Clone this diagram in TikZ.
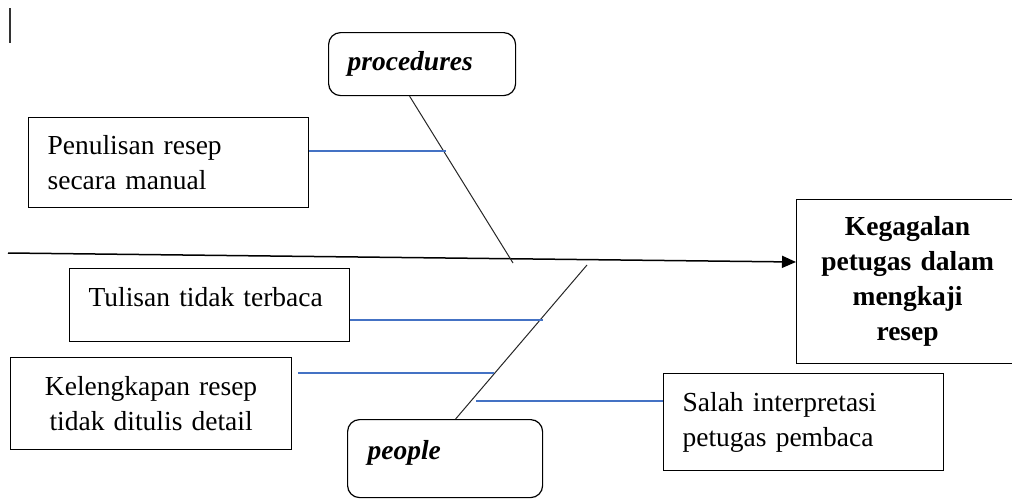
\documentclass[tikz,border=0pt]{standalone}
\usepackage{fontspec}
\setmainfont{Liberation Serif}
\usetikzlibrary{arrows.meta, calc}

\definecolor{twigblue}{RGB}{68,114,196}

\begin{document}
\begin{tikzpicture}[x=1pt, y=-1pt, font=\fontsize{27.5}{35}\selectfont]

  \tikzset{causebox/.style={draw, line width=1.2pt, inner xsep=19pt, align=left, anchor=north west}}
  \tikzset{headbox/.style={causebox, rounded corners=12pt, inner ysep=0pt,
      font=\fontsize{27.5}{35}\selectfont\bfseries\itshape}}
  \tikzset{bone/.style={line width=1pt, black!85}}
  \tikzset{twig/.style={line width=1.2pt, twigblue}}

  \useasboundingbox (0,0) rectangle (1012,498);
  \clip (0,0) rectangle (1012,498);

  % cursor mark
  \draw[line width=2pt, black!80] (9.5,8) -- (9.5,43);

  % heads
  \node[headbox, text width=149pt, text height=38pt, text depth=25pt] (proc) at (328,32) {procedures};
  \node[headbox, inner xsep=20pt, text width=155pt, text height=40pt, text depth=38pt] (ppl) at (347,419) {people};

  % effect
  \node[causebox, inner xsep=0pt, align=center, text width=200pt, minimum width=222, minimum height=164,
      font=\fontsize{27.5}{35}\selectfont\bfseries] (keg) at (796,199)
      {Kegagalan\\petugas dalam\\mengkaji\\resep};

  % causes
  \node[causebox, text width=242pt, minimum width=280, minimum height=90] (pen) at (28,117)
      {Penulisan resep\\secara manual};
  \node[causebox, text width=242pt, inner ysep=0pt, text height=38pt, text depth=35pt] (tul) at (69,268)
      {Tulisan tidak terbaca};
  \node[causebox, text width=243pt, align=center, minimum width=281, minimum height=92] (kel) at (10,357)
      {Kelengkapan resep\\tidak ditulis detail};
  \node[causebox, text width=242pt, minimum width=280, minimum height=97] (sal) at (663,373)
      {Salah interpretasi\\petugas pembaca};

  % spine
  \coordinate (tail) at (8,253);
  \coordinate (tip) at (796,262);
  \draw[line width=1.5pt, -{Triangle[length=14pt, width=12pt]}] (tail) -- (tip);

  % bones
  \coordinate (pfoot) at (513,263);
  \coordinate (qfoot) at (587,265);
  \draw[bone] ($(proc.south)+(-12.5,0)$) -- (pfoot);
  \draw[bone] ($(ppl.north)+(10.5,0)$) -- (qfoot);

  % twigs
  \coordinate (t1) at (446,151);
  \coordinate (t2) at (543,320);
  \coordinate (t3) at (494,373);
  \coordinate (t4) at (476,401);
  \draw[twig] (t1 -| pen.east) -- (t1);
  \draw[twig] (t2 -| tul.east) -- (t2);
  \draw[twig] ($(t3 -| kel.east)+(6,0)$) -- (t3);
  \draw[twig] (t4) -- (t4 -| sal.west);
\end{tikzpicture}
\end{document}
